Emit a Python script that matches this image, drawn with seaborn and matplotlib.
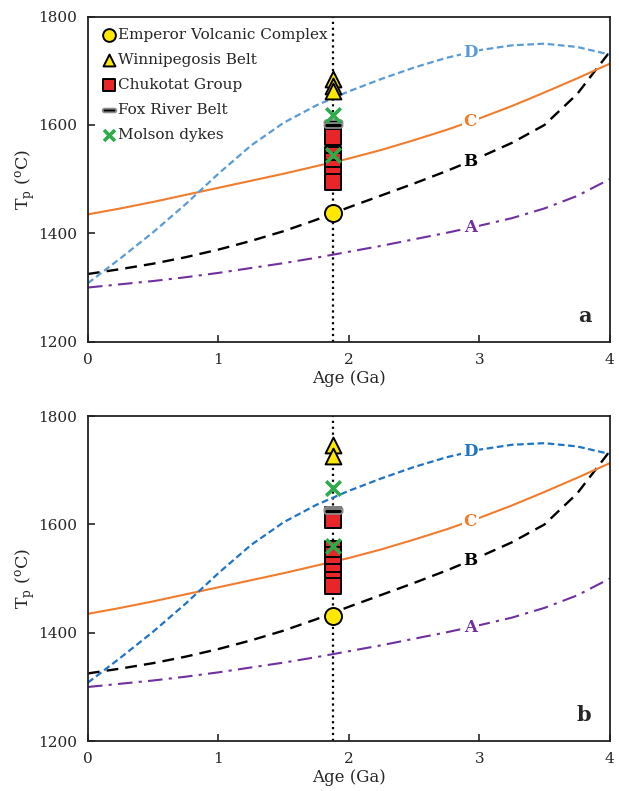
import numpy as np
import seaborn as sns
import matplotlib.pyplot as plt
from matplotlib.path import Path

# Model mantle potential temperature curves (Tp, degC vs age, Ga)
ages = [0, 0.25, 0.5, 0.75, 1, 1.25, 1.5, 1.75, 2, 2.25, 2.5, 2.75, 3, 3.25, 3.5, 3.75, 4]
curve_A = [1300, 1306, 1312, 1319, 1327, 1336, 1345, 1355, 1366, 1377, 1389, 1401, 1414, 1428, 1446, 1469, 1500]
curve_B = [1325, 1334, 1344, 1356, 1370, 1386, 1404, 1425, 1448, 1470, 1492, 1515, 1540, 1567, 1600, 1657, 1735]
curve_C = [1435, 1446, 1458, 1471, 1484, 1497, 1510, 1524, 1538, 1554, 1572, 1591, 1612, 1635, 1660, 1686, 1713]
curve_D = [1308, 1354, 1402, 1454, 1510, 1562, 1604, 1636, 1662, 1685, 1706, 1724, 1738, 1747, 1750, 1744, 1730]

sample_age = 1.88

# Sample suites, panel a
a_emperor = [1437]
a_winnipegosis = [1685, 1672, 1662]
a_chukotat = [1590, 1578, 1545, 1533, 1520, 1507, 1494]
a_foxriver = [1605, 1600]
a_molson = [1618, 1545]

# Sample suites, panel b
b_emperor = [1431]
b_winnipegosis = [1746, 1726]
b_chukotat = [1618, 1608, 1555, 1543, 1525, 1513, 1498, 1487]
b_foxriver = [1628, 1624]
b_molson = [1667, 1561]

sns.set_style("ticks")
plt.rcParams['font.family'] = ['DejaVu Serif']
plt.rcParams['mathtext.fontset'] = 'dejavuserif'

# stadium-shaped marker for Fox River Belt
t = np.linspace(-np.pi / 2, np.pi / 2, 12)
right = np.column_stack([1.6 + 0.6 * np.cos(t), 0.6 * np.sin(t)])
left = np.column_stack([-1.6 - 0.6 * np.cos(t), -0.6 * np.sin(t)])
stadium = Path(np.vstack([right, left, right[:1]]), closed=True)


def draw_panel(ax, d_color, emperor, winni, chuk, fox, molson, letter, legend):
    ax.axvline(sample_age, color='black', linestyle=':', linewidth=1.6, zorder=1)

    specs = [
        ('A', curve_A, '#7030a0', (7, 3, 1.5, 3), 1.5),
        ('B', curve_B, 'black', (5, 3), 1.7),
        ('C', curve_C, '#f07c2e', None, 1.5),
        ('D', curve_D, d_color, (3, 1.6), 1.6),
    ]
    for name, vals, col, dash, lw in specs:
        sns.lineplot(x=ages, y=vals, color=col, linewidth=lw, ax=ax, zorder=2)
        if dash is not None:
            ax.lines[-1].set_dashes(dash)
        ax.text(2.93, np.interp(2.93, ages, vals), name, color=col, fontsize=12,
                fontweight='bold', ha='center', va='center', zorder=3,
                bbox=dict(facecolor='white', edgecolor='none', pad=1.5))

    kw = dict(ax=ax, edgecolor='black', linewidth=1.4, zorder=4)
    sns.scatterplot(x=[sample_age] * len(emperor), y=emperor, marker='o', s=150,
                    color='#ffe800', label='Emperor Volcanic Complex', **kw)
    sns.scatterplot(x=[sample_age] * len(winni), y=winni, marker='^', s=130,
                    color='#ffe800', label='Winnipegosis Belt', **kw)
    sns.scatterplot(x=[sample_age] * len(chuk), y=chuk, marker='s', s=130,
                    color='#e8262a', label='Chukotat Group', **kw)
    sns.scatterplot(x=[sample_age] * len(fox), y=fox, marker=stadium, s=170,
                    color='black', ax=ax, edgecolor='#8c8c8c', linewidth=1.3,
                    label='Fox River Belt', zorder=4)
    sns.scatterplot(x=[sample_age] * len(molson), y=molson, marker='x', s=110,
                    color='#2eab4a', linewidth=2.6, label='Molson dykes', ax=ax, zorder=5)

    if legend:
        ax.legend(loc='upper left', frameon=False, fontsize=11, handletextpad=0.05,
                  labelspacing=0.72, borderaxespad=0.3, handlelength=1.2,
                  borderpad=0.45, markerscale=0.75)
    elif ax.get_legend():
        ax.get_legend().remove()

    ax.set_xlim(0, 4)
    ax.set_ylim(1200, 1800)
    ax.set_xticks([0, 1, 2, 3, 4])
    ax.set_yticks([1200, 1400, 1600, 1800])
    ax.tick_params(direction='in', length=5, width=1.2, labelsize=11, pad=8)
    for s in ax.spines.values():
        s.set_linewidth(1.3)
        s.set_color('#222222')
    ax.set_xlabel('Age (Ga)', fontsize=12, labelpad=2)
    ax.set_ylabel(r'T$_\mathrm{p}$ ($^\mathrm{o}$C)', fontsize=12.5)
    ax.yaxis.set_label_coords(-0.098, 0.5)
    ax.text(0.965, 0.08, letter, transform=ax.transAxes, fontsize=15,
            fontweight='bold', ha='right', va='center')


fig = plt.figure(figsize=(6.19, 7.91), dpi=100)
ax1 = fig.add_axes([0.142, 0.568, 0.843, 0.411])
ax2 = fig.add_axes([0.142, 0.063, 0.843, 0.411])

draw_panel(ax1, '#5b9bd5', a_emperor, a_winnipegosis, a_chukotat, a_foxriver, a_molson, 'a', True)
draw_panel(ax2, '#1f74c4', b_emperor, b_winnipegosis, b_chukotat, b_foxriver, b_molson, 'b', False)

fig.savefig('out.png', dpi=100)
plt.close(fig)
